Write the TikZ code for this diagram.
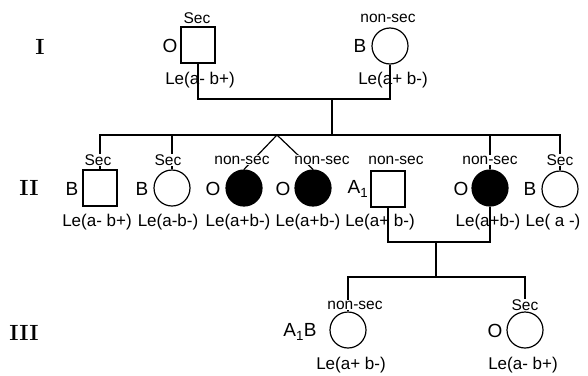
\documentclass[tikz,border=0pt]{standalone}
\usepackage{fontspec}
\setsansfont{Liberation Sans}

\begin{document}
\begin{tikzpicture}[x=1pt,y=-1pt,line width=1.2pt,
	male/.style={draw,rectangle,minimum width=34pt,minimum height=36pt,inner sep=0pt},
	female/.style={draw,circle,minimum size=36pt,inner sep=0pt},
	affected/.style={fill=black},
	sec/.style={font=\sffamily\fontsize{15.5}{15.5}\selectfont,fill=white,inner sep=1pt},
	grp/.style={font=\sffamily\fontsize{19}{19}\selectfont,inner sep=0pt},
	le/.style={font=\sffamily\fontsize{17}{17}\selectfont,inner sep=0pt},
	gen/.style={font=\bfseries\fontsize{22}{22}\selectfont,inner sep=0pt}]

\useasboundingbox (0,0) rectangle (588,375);

% generations
\node[gen] (g1) at (40,47) {I};
\node[gen] (g2) at (29,188) {II};
\node[gen] (g3) at (24,333) {III};

% persons
\node[male] (f1) at (198,45) {};
\node[female] (m1) at (390,46) {};

\node[male] (s1) at (100,188) {};
\node[female] (s2) at (172,188) {};
\node[female,affected] (s3) at (244,188) {};
\node[female,affected] (s4) at (313,188) {};
\node[male] (s5) at (388,189) {};
\node[female,affected] (s6) at (490,188) {};
\node[female] (s7) at (560,189) {};

\node[female] (t1) at (348,330) {};
\node[female] (t2) at (525,330) {};

% helper points
\coordinate (c1) at (332,99);
\coordinate (sib2) at (332,135);
\coordinate (tw) at (277,135);
\coordinate (c2) at (436,242);
\coordinate (sib3) at (436,277);

% lines of descent
\draw (f1.south) |- (m1.south |- c1) -- (m1.south);
\draw (c1) -- (sib2);
\draw (s1.north) |- (s7.north |- sib2) -- (s7.north);
\draw (s2.north) -- (s2.north |- sib2);
\draw (s6.north) -- (s6.north |- sib2);
\draw (s3.north) -- (tw) -- (s4.north);
\draw (s5.south) |- (s6.south |- c2) -- (s6.south);
\draw (c2) -- (sib3);
\draw (t1.north) |- (t2.north |- sib3) -- (t2.north);

% secretor status
\node[sec] (sf1) at (197,18) {Sec};
\node[sec] (sm1) at (388,18) {non-sec};
\foreach \i/\x/\t in {1/98/Sec, 2/168/Sec, 3/242/non-sec, 4/322/non-sec,
		5/396/non-sec, 6/490/non-sec, 7/560/Sec}
{
	\node[sec] (ss\i) at (\x,160) {\t};
};
\node[sec] (st1) at (355,305) {non-sec};
\node[sec] (st2) at (525,305) {Sec};

% blood groups
\node[grp] (bf1) at (170,46) {O};
\node[grp] (bm1) at (360,46) {B};
\foreach \i/\x/\t in {1/72/B, 2/142/B, 3/213/O, 4/283/O,
		5/358/A\textsubscript{1}, 6/461/O, 7/530/B}
{
	\node[grp] (bs\i) at (\x,189) {\t};
};
\node[grp] (bt1) at (300,332) {A\textsubscript{1}B};
\node[grp] (bt2) at (495,331) {O};

% Lewis types
\node[le] (lf1) at (200,80) {Le(a- b+)};
\node[le] (lm1) at (393,80) {Le(a+ b-)};
\foreach \i/\x/\t in {1/97/Le(a- b+), 2/168/Le(a-b-), 3/238/Le(a+b-),
		4/308/Le(a+b-), 5/380/Le(a+ b-), 6/488/Le(a+b-), 7/553/Le( a -)}
{
	\node[le] (ls\i) at (\x,222) {\t};
};
\node[le] (lt1) at (351,365) {Le(a+ b-)};
\node[le] (lt2) at (523,365) {Le(a- b+)};
\end{tikzpicture}
\end{document}
